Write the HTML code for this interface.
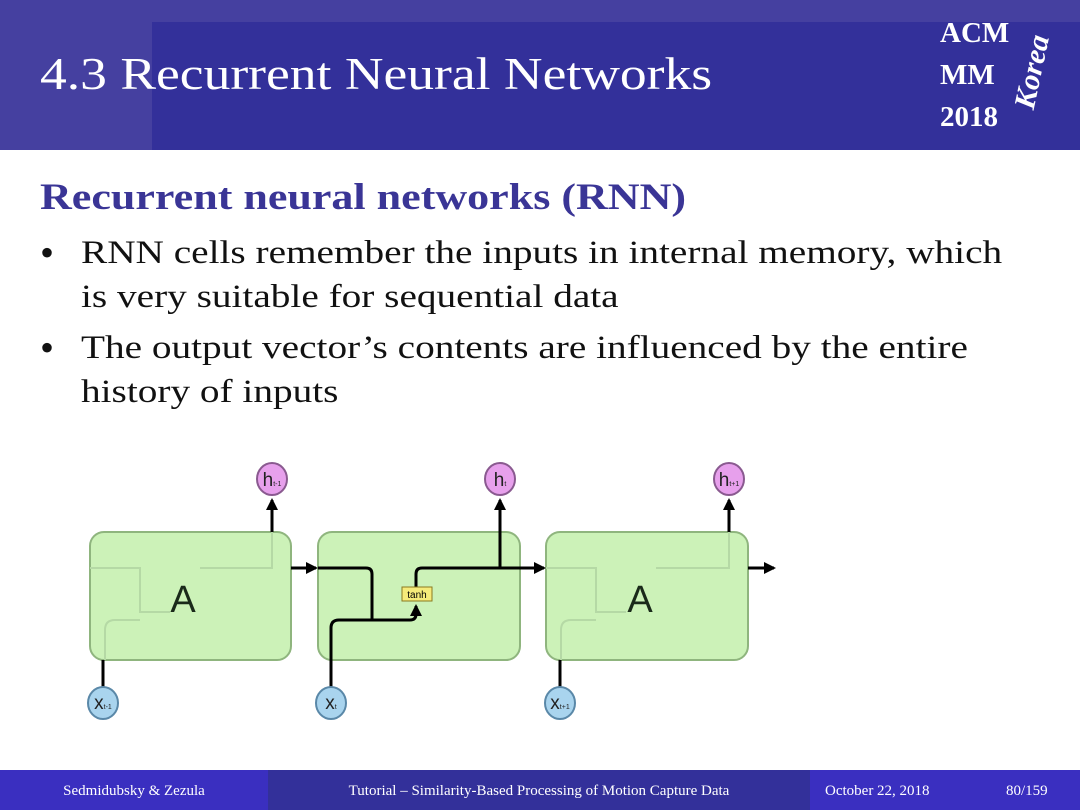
<!DOCTYPE html>
<html><head><style>
body{margin:0;width:1080px;height:810px;position:relative;background:#fff;font-family:"Liberation Serif",serif;overflow:hidden}
.hdr{position:absolute;left:0;top:0;width:1080px;height:150px;background:#33309a}
.hs1{position:absolute;left:0;top:0;width:1080px;height:22px;background:#4540a0}
.hs2{position:absolute;left:0;top:0;width:152px;height:150px;background:#4540a0}
.sx{transform-origin:0 0;transform:scaleX(1.19);white-space:nowrap}
.title{position:absolute;left:40px;top:48px;color:#fff;font-size:45px}
.acm{position:absolute;left:940px;top:12px;color:#fff;font-size:29px;line-height:42px;font-weight:bold}
.korea{position:absolute;left:995px;top:55px;color:#fff;font-size:30px;font-style:italic;font-weight:bold;transform:rotate(-78deg)}
h2{position:absolute;left:40px;top:176px;margin:0;font-size:37px;color:#3a3596;font-weight:bold}
.b{position:absolute;left:40px;font-size:33px;color:#111;line-height:44px}
.b span{position:absolute;left:0;font-size:40px}
.b div{margin-left:41px}
.ftr{position:absolute;left:0;top:770px;width:1080px;height:40px;background:#33309a;color:#fff;font-size:15px}
.ftr div{position:absolute;top:0;height:40px;line-height:42px;text-align:center}
</style></head><body>
<div class="hdr"></div><div class="hs1"></div><div class="hs2"></div>
<div class="title sx">4.3 Recurrent Neural Networks</div>
<div class="acm">ACM<br>MM<br>2018</div>
<div class="korea">Korea</div>
<h2 class="sx">Recurrent neural networks (RNN)</h2>
<div class="b" style="top:231px"><span>•</span><div class="sx">RNN cells remember the inputs in internal memory, which<br>is very suitable for sequential data</div></div>
<div class="b" style="top:326px"><span>•</span><div class="sx">The output vector’s contents are influenced by the entire<br>history of inputs</div></div>
<svg style="position:absolute;left:0;top:0" width="1080" height="810">
<defs><marker id="s" markerWidth="12" markerHeight="12" refX="10" refY="6" orient="auto" markerUnits="userSpaceOnUse"><path d="M0,0 L12,6 L0,12z" fill="#000"/></marker></defs>
<g fill="#ccf2b8" stroke="#8fb57e" stroke-width="2">
<rect x="90" y="532" width="201" height="128" rx="14"/>
<rect x="318" y="532" width="202" height="128" rx="14"/>
<rect x="546" y="532" width="202" height="128" rx="14"/>
</g>
<g fill="none" stroke="#b5d9a5" stroke-width="2">
<path d="M90,568 H140 V612 H170 M105,660 V630 Q105,620 115,620 H140 M200,568 H272 V532"/>
<path d="M546,568 H596 V612 H626 M561,660 V630 Q561,620 571,620 H596 M656,568 H729 V532"/>
</g>
<g stroke="#000" stroke-width="3" fill="none">
<path d="M272,532 V500" marker-end="url(#s)"/>
<path d="M729,532 V500" marker-end="url(#s)"/>
<path d="M103,688 V660 M560,688 V660"/>
<path d="M291,568 H316" marker-end="url(#s)"/>
<path d="M318,568 H366 Q372,568 372,574 V620 H410 Q416,620 416,614 V606" marker-end="url(#s)"/>
<path d="M331,688 V628 Q331,620 339,620 H372"/>
<path d="M416,587 V574 Q416,568 422,568 H500 V500" marker-end="url(#s)"/>
<path d="M500,568 H544" marker-end="url(#s)"/>
<path d="M748,568 H774" marker-end="url(#s)"/>
</g>
<rect x="402" y="587" width="30" height="14" fill="#f5eb7a" stroke="#8a7a20"/>
<text x="417" y="598" font-size="10" text-anchor="middle" font-family="Liberation Sans">tanh</text>
<g font-family="Liberation Sans" font-size="38" text-anchor="middle" fill="#1a2a1a"><text x="183" y="612">A</text><text x="640" y="612">A</text></g>
<g fill="#e7a0ec" stroke="#8a5a90" stroke-width="2">
<ellipse cx="272" cy="479" rx="15" ry="16"/><ellipse cx="500" cy="479" rx="15" ry="16"/><ellipse cx="729" cy="479" rx="15" ry="16"/></g>
<g fill="#a9d4ee" stroke="#5a88a8" stroke-width="2">
<ellipse cx="103" cy="703" rx="15" ry="16"/><ellipse cx="331" cy="703" rx="15" ry="16"/><ellipse cx="560" cy="703" rx="15" ry="16"/></g>
<g font-family="Liberation Sans" fill="#222" font-size="19" text-anchor="middle">
<text x="272" y="486">h<tspan font-size="7">t-1</tspan></text>
<text x="500" y="486">h<tspan font-size="7">t</tspan></text>
<text x="729" y="486">h<tspan font-size="7">t+1</tspan></text>
<text x="103" y="709">x<tspan font-size="7">t-1</tspan></text>
<text x="331" y="709">x<tspan font-size="7">t</tspan></text>
<text x="560" y="709">x<tspan font-size="7">t+1</tspan></text>
</g>
</svg>
<div class="ftr">
<div style="left:0;width:268px;background:#3a2fc0">Sedmidubsky &amp; Zezula</div>
<div style="left:268px;width:542px">Tutorial – Similarity-Based Processing of Motion Capture Data</div>
<div style="left:810px;width:270px;background:#3a2fc0"><span style="position:absolute;left:15px">October 22, 2018</span><span style="position:absolute;left:196px">80/159</span></div>
</div>
</body></html>
